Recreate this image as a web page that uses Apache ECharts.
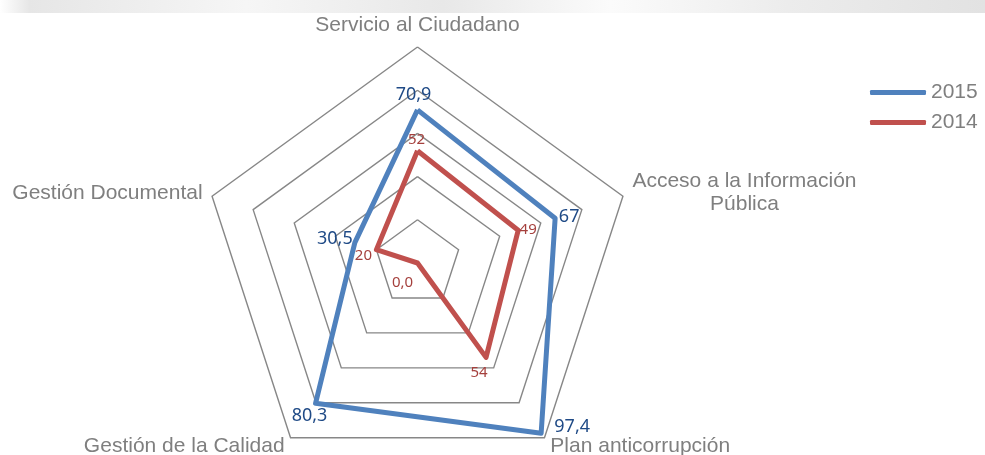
<!DOCTYPE html>
<html>
<head>
<meta charset="utf-8">
<script src="https://cdn.jsdelivr.net/npm/echarts@6/dist/echarts.min.js"></script>
<style>
  html, body { margin: 0; padding: 0; background: #fff; }
  #radar-main { width: 985px; height: 455px; }
</style>
</head>
<body>
<div id="radar-main"></div>
<script>
  // indicators listed in ECharts order (counter-clockwise from the top)
  const categories = ['Servicio al Ciudadano', 'Gestión Documental', 'Gestión de la Calidad', 'Plan anticorrupción', 'Acceso a la Información\nPública'];
  const values2015 = [70.9, 30.5, 80.3, 97.4, 67];
  const values2014 = [52, 20, 0, 54, 49];
  const seriesNames = ['2015', '2014'];

  const blue = '#4F81BD';
  const red = '#C0504D';
  const greyText = '#7f7f7f';

  // where each value label sits relative to its vertex
  const labelOffsets2015 = [[-4, -15], [-20, -4], [-6, 13], [31, -6], [14, -1]];
  const labelOffsets2014 = [[-1, -11], [-13, 6], [-15, 20], [-7, 15], [10, -1]];

  function fmt(v) {
    if (Number.isInteger(v) && v !== 0) return String(v);
    return v.toFixed(1).replace('.', ',');
  }

  function labelItems(name, values, offsets, color, size) {
    return values.map(function (v, k) {
      return {
        name: name + '-' + k,
        value: values,
        symbol: 'circle',
        symbolSize: 0,
        itemStyle: { color: 'rgba(0,0,0,0)' },
        lineStyle: { width: 0, opacity: 0 },
        label: {
          show: true,
          position: 'inside',
          offset: offsets[k],
          color: color,
          fontSize: size,
          fontFamily: 'Noto Sans',
          formatter: function (p) {
            return p.dimensionIndex === k ? fmt(p.value) : '';
          }
        }
      };
    });
  }

  let option = {
    animation: false,
    backgroundColor: '#fff',
    graphic: [
      {
        type: 'rect',
        shape: { x: 0, y: 0, width: 985, height: 13 },
        style: {
          fill: new echarts.graphic.LinearGradient(0, 0, 1, 0, [
            { offset: 0, color: '#ffffff' },
            { offset: 0.03, color: '#e6e6e6' },
            { offset: 0.25, color: '#f6f6f6' },
            { offset: 0.45, color: '#e8e8e8' },
            { offset: 0.62, color: '#fbfbfb' },
            { offset: 0.8, color: '#ececec' },
            { offset: 1, color: '#e2e2e2' }
          ])
        },
        silent: true
      }
    ],
    legend: {
      data: seriesNames,
      orient: 'vertical',
      left: 870,
      top: 82,
      padding: 0,
      itemWidth: 56,
      itemHeight: 5,
      itemGap: 9,
      icon: 'roundRect',
      textStyle: { fontSize: 21, color: greyText, fontFamily: 'Liberation Sans' }
    },
    radar: {
      center: [417.5, 263],
      radius: 216,
      startAngle: 90,
      splitNumber: 5,
      shape: 'polygon',
      nameGap: 10,
      indicator: categories.map(function (c) {
        return { name: c, min: 0, max: 100 };
      }),
      axisName: {
        color: greyText,
        fontSize: 21,
        fontFamily: 'Liberation Sans',
        formatter: function (name) {
          return name.split('\n').map(function (s) { return '{n|' + s + '}'; }).join('\n');
        },
        rich: {
          n: { align: 'center', fontSize: 21, lineHeight: 23, color: greyText, fontFamily: 'Liberation Sans' }
        }
      },
      axisLine: { show: false },
      axisTick: { show: false },
      axisLabel: { show: false },
      splitArea: { show: false },
      splitLine: { lineStyle: { color: '#878787', width: 1.4 } }
    },
    series: [
      {
        type: 'radar',
        silent: true,
        data: [
          {
            name: seriesNames[0],
            value: values2015,
            symbol: 'none',
            itemStyle: { color: blue },
            lineStyle: { color: blue, width: 5 }
          },
          {
            name: seriesNames[1],
            value: values2014,
            symbol: 'none',
            itemStyle: { color: red },
            lineStyle: { color: red, width: 5 }
          }
        ].concat(
          labelItems(seriesNames[0], values2015, labelOffsets2015, '#1F4A86', 18),
          labelItems(seriesNames[1], values2014, labelOffsets2014, '#A5403D', 15)
        )
      }
    ]
  };

  let chartDom = document.getElementById('radar-main');
  if (chartDom) {
    let myChart = echarts.init(chartDom);
    option && myChart.setOption(option);
  }
</script>
</body>
</html>
